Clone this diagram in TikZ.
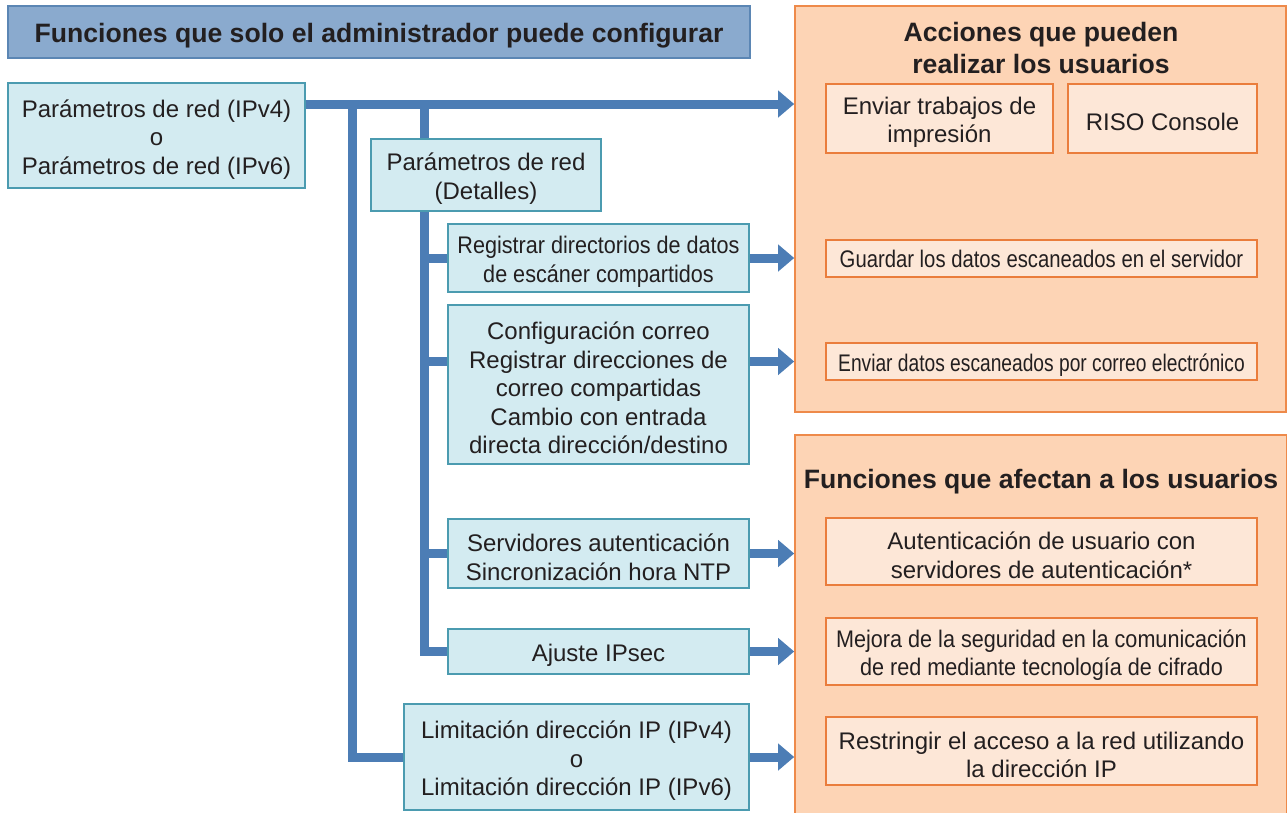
\documentclass[tikz,border=0pt]{standalone}
\usepackage{fontspec}
\setmainfont{Liberation Sans}
\newfontfamily\narrowfont{Liberation Sans}[FakeStretch=0.9]
\newfontfamily\savfont{Liberation Sans}[FakeStretch=0.845]
\newfontfamily\mailfont{Liberation Sans}[FakeStretch=0.8]
\newcommand\lowr{\rule{0pt}{25pt}}
\newcommand\lowb{\rule{0pt}{27pt}}
\usetikzlibrary{arrows.meta}
\definecolor{inkgray}{HTML}{231F20}
\definecolor{admfill}{HTML}{8AAACE}
\definecolor{admline}{HTML}{5B86B4}
\definecolor{cfgfill}{HTML}{D3EBF1}
\definecolor{cfgline}{HTML}{4B9BB0}
\definecolor{panfill}{HTML}{FDD4B5}
\definecolor{panline}{HTML}{EE8A4A}
\definecolor{actfill}{HTML}{FDE7D7}
\definecolor{actline}{HTML}{EA7D3C}
\definecolor{busblue}{HTML}{4C7DB5}

\begin{document}
\begin{tikzpicture}[x=1pt,y=-1pt,line join=miter,
  txt/.style={text=inkgray,align=center,inner sep=0pt,font=\fontsize{24}{28.5}\selectfont},
  hdr/.style={text=inkgray,align=center,inner sep=0pt,font=\fontsize{26.6}{32}\selectfont\bfseries},
  cfgbox/.style={txt,fill=cfgfill,draw=cfgline,line width=1.6pt},
  panel/.style={fill=panfill,draw=panline,line width=1.6pt,inner sep=0pt},
  actbox/.style={txt,fill=actfill,draw=actline,line width=1.6pt},
  bus/.style={draw=busblue,line width=9pt},
  busarrow/.style={bus,-{Triangle[length=16pt,width=26pt]}}]
  \useasboundingbox (0,0) rectangle (1287,812);

  \node[panel,minimum width=491pt,minimum height=406pt] (acc) at (1040.5,209) {};
  \node[panel,minimum width=492pt,minimum height=380pt] (fun) at (1041,625) {};
  \node[hdr] (acct) at (1041,48) {Acciones que pueden\\realizar los usuarios};
  \node[hdr] (funt) at (1041,482) {Funciones que afectan a los usuarios};

  \node[hdr,fill=admfill,draw=admline,line width=1.6pt,minimum width=742pt,minimum height=52pt] (adm) at (379,32)
    {\lowb Funciones que solo el administrador puede configurar};

  \node[cfgbox,minimum width=297pt,minimum height=105pt] (p1) at (156.5,135.5)
    {\lowr Parámetros de red (IPv4)\\o\\Parámetros de red (IPv6)};
  \node[cfgbox,minimum width=230pt,minimum height=72pt] (det) at (486,175)
    {\lowr Parámetros de red\\(Detalles)};
  \node[cfgbox,minimum width=301pt,minimum height=68pt,font=\fontsize{24}{28.5}\selectfont\narrowfont] (reg) at (598.5,258)
    {\lowr Registrar directorios de datos\\de escáner compartidos};
  \node[cfgbox,minimum width=301pt,minimum height=159pt] (cfg) at (598.5,384.5)
    {\lowr Configuración correo\\Registrar direcciones de\\correo compartidas\\Cambio con entrada\\directa dirección/destino};
  \node[cfgbox,minimum width=301pt,minimum height=69pt] (srv) at (598.5,553.5)
    {\lowr Servidores autenticación\\Sincronización hora NTP};
  \node[cfgbox,minimum width=301pt,minimum height=45pt] (ips) at (598.5,651.5)
    {\lowr Ajuste IPsec};
  \node[cfgbox,minimum width=345pt,minimum height=106pt] (lim) at (576.5,757)
    {\lowr Limitación dirección IP (IPv4)\\o\\Limitación dirección IP (IPv6)};

  \node[actbox,minimum width=227pt,minimum height=69pt] (job) at (939.5,118.5)
    {\lowr Enviar trabajos de\\impresión};
  \node[actbox,minimum width=189pt,minimum height=69pt] (riso) at (1162.5,118.5)
    {\lowr RISO Console};
  \node[actbox,minimum width=431pt,minimum height=37pt,font=\fontsize{24}{28.5}\selectfont\savfont] (sav) at (1041.5,258.5)
    {Guardar los datos escaneados en el servidor};
  \node[actbox,minimum width=431pt,minimum height=37pt,font=\fontsize{24}{28.5}\selectfont\mailfont] (mail) at (1041.5,361.5)
    {\lowr Enviar datos escaneados por correo electrónico};
  \node[actbox,minimum width=431pt,minimum height=67pt] (auth) at (1041.5,551.5)
    {\lowr Autenticación de usuario con\\servidores de autenticación*};
  \node[actbox,minimum width=431pt,minimum height=67pt,font=\fontsize{24}{28.5}\selectfont\narrowfont] (enc) at (1041.5,651.5)
    {\lowr Mejora de la seguridad en la comunicación\\de red mediante tecnología de cifrado};
  \node[actbox,minimum width=431pt,minimum height=68pt] (ipr) at (1041.5,751)
    {\lowr Restringir el acceso a la red utilizando\\la dirección IP};

  \coordinate (busL) at (352,104);
  \coordinate (busR) at (424,104);
  \draw[busarrow] (p1.east |- busL) -- (acc.west |- busL);
  \draw[bus] (busL) |- (lim.west);
  \draw[bus] (busR) -- (busR |- det.north);
  \draw[bus] (busR |- det.south) |- (ips.west);
  \draw[bus] (busR |- reg.west) -- (reg.west);
  \draw[bus] (busR |- mail) -- (cfg.west |- mail);
  \draw[bus] (busR |- srv.west) -- (srv.west);
  \draw[busarrow] (reg.east) -- (reg.east -| acc.west);
  \draw[busarrow] (cfg.east |- mail) -- (acc.west |- mail);
  \draw[busarrow] (srv.east) -- (srv.east -| fun.west);
  \draw[busarrow] (ips.east) -- (ips.east -| fun.west);
  \draw[busarrow] (lim.east) -- (lim.east -| fun.west);
\end{tikzpicture}
\end{document}
